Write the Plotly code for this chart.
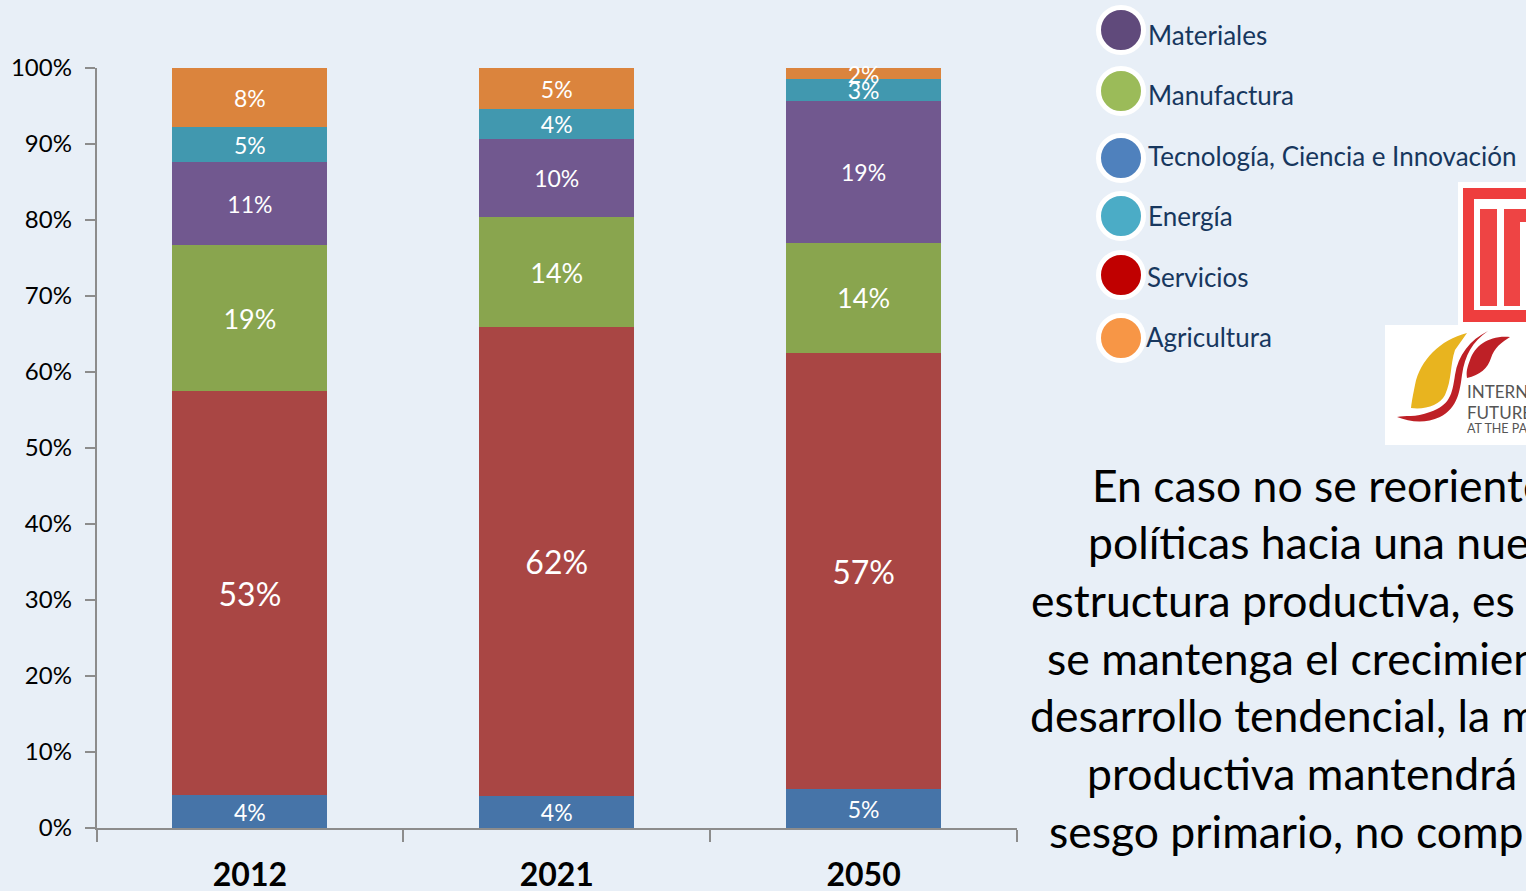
import plotly.graph_objects as go

W, H = 1526, 891
FONT = "Lato"
BG = "#E8EFF7"

# ---- data (share of each sector, %) ----
years = ["2012", "2021", "2050"]
tecnologia = [4.3, 4.2, 5.1]
servicios = [53.2, 61.7, 57.4]
manufactura = [19.2, 14.5, 14.5]
materiales = [10.9, 10.2, 18.6]
energia = [4.6, 4.0, 2.95]
agricultura = [7.79, 5.39, 1.44]

lab_tecnologia = ["4%", "4%", "5%"]
lab_servicios = ["53%", "62%", "57%"]
lab_manufactura = ["19%", "14%", "14%"]
lab_materiales = ["11%", "10%", "19%"]
lab_energia = ["5%", "4%", "3%"]
lab_agricultura = ["8%", "5%", "2%"]

legend_names = ["Materiales", "Manufactura", "Tecnología, Ciencia e Innovación",
                "Energía", "Servicios", "Agricultura"]
paragraph = ["En caso no se reoriente", "políticas hacia una nue",
             "estructura productiva, es", "se mantenga el crecimien",
             "desarrollo tendencial, la m", "productiva mantendrá",
             "sesgo primario, no comp"]

# ---- styles ----
series = [
    ("Tecnología, Ciencia e Innovación", tecnologia, lab_tecnologia, "#4674A8", [23, 23, 23]),
    ("Servicios", servicios, lab_servicios, "#A94644", [32, 32, 32]),
    ("Manufactura", manufactura, lab_manufactura, "#89A54E", [27, 27, 27]),
    ("Materiales", materiales, lab_materiales, "#71588F", [23, 23, 23]),
    ("Energía", energia, lab_energia, "#4198AF", [23, 23, 23]),
    ("Agricultura", agricultura, lab_agricultura, "#DB843D", [23, 23, 23]),
]
legend_colors = ["#604A7B", "#9BBB59", "#4F81BD", "#4BACC6", "#C00000", "#F79646"]
legend_cy = [30, 91, 158, 216, 275, 338]
legend_tx = [1147, 1147, 1147, 1147, 1146, 1145]
legend_ty = [35, 95, 156, 216, 277, 337]
para_x = [1090.5, 1086.5, 1029.5, 1045.5, 1028.5, 1085.5, 1047.5]
para_y = [484, 541, 599, 657, 714, 772, 830]


def px(x):
    return x / W


def py(y):
    return 1 - y / H


fig = go.Figure()
for name, vals, labs, color, sizes in series:
    fig.add_trace(go.Bar(
        name=name, x=years, y=vals, text=labs, marker=dict(color=color, line=dict(width=0)),
        textposition="inside", insidetextanchor="middle", textangle=0,
        constraintext="none", cliponaxis=False,
        textfont=dict(family=FONT, color="white", size=sizes),
        hoverinfo="name+y",
    ))

shapes = []
annotations = []


def rect(x0, y0, x1, y1, color):
    shapes.append(dict(type="rect", xref="paper", yref="paper", x0=px(x0), x1=px(x1),
                       y0=py(y0), y1=py(y1), fillcolor=color, line=dict(width=0), layer="above"))


def curve(segments, color):
    out = []
    for cmd, coords in segments:
        pairs = [f"{px(coords[i]):.5f},{py(coords[i + 1]):.5f}" for i in range(0, len(coords), 2)]
        out.append(cmd + " " + " ".join(pairs))
    shapes.append(dict(type="path", xref="paper", yref="paper", path=" ".join(out) + " Z",
                       fillcolor=color, line=dict(width=0), layer="above"))


def text(x, y, s, size, color, anchor="left", family=FONT):
    annotations.append(dict(xref="paper", yref="paper", x=px(x), y=py(y), text=s, showarrow=False,
                            xanchor=anchor, yanchor="middle", align="left", borderpad=0,
                            font=dict(family=family, size=size, color=color)))


# legend
for name, col, cy, tx, ty in zip(legend_names, legend_colors, legend_cy, legend_tx, legend_ty):
    shapes.append(dict(type="circle", xref="paper", yref="paper",
                       x0=px(1121 - 22.5), x1=px(1121 + 22.5), y0=py(cy + 22.5), y1=py(cy - 22.5),
                       fillcolor=col, line=dict(color="white", width=5), layer="above"))
    text(tx, ty, name, 26, "#17375E")

# IFP logo
rect(1458, 182, 1526, 325, "white")
rect(1463, 188, 1526, 322, "#EE3E3E")
rect(1474, 199, 1526, 310, "white")
rect(1480, 209, 1497, 306, "#EE4444")
rect(1504, 209, 1526, 306, "#EE4444")
rect(1520, 222, 1526, 306, "white")

# leaf logo
rect(1385, 325, 1526, 445, "white")
curve([("M", [1467, 333]), ("C", [1440, 340, 1420, 360, 1415, 385]),
       ("C", [1413, 395, 1412, 400, 1411, 408]), ("C", [1425, 410, 1440, 405, 1445, 395]),
       ("C", [1452, 380, 1450, 365, 1455, 350])], "#E8B41F")
curve([("M", [1488, 331]), ("C", [1470, 340, 1458, 355, 1455, 375]),
       ("C", [1452, 395, 1450, 405, 1430, 412]), ("C", [1415, 418, 1405, 415, 1397, 417]),
       ("C", [1410, 422, 1425, 424, 1440, 417]), ("C", [1458, 408, 1460, 390, 1462, 375]),
       ("C", [1465, 355, 1472, 342, 1488, 331])], "#BE2026")
curve([("M", [1510, 337]), ("C", [1490, 335, 1475, 345, 1470, 360]),
       ("C", [1467, 368, 1466, 372, 1467, 378]), ("C", [1480, 375, 1488, 368, 1491, 358]),
       ("C", [1494, 348, 1502, 342, 1510, 337])], "#BE2026")
text(1466, 391, "INTERN", 17, "#555555")
text(1466, 412, "FUTURE", 17, "#555555")
text(1466, 429, "AT THE PA", 12.5, "#555555")

# paragraph
for s, x, y in zip(paragraph, para_x, para_y):
    text(x, y, s, 44.5, "black")

axis_color = "#8C8C8C"
fig.update_layout(
    width=W, height=H, margin=dict(l=0, r=0, t=0, b=0),
    paper_bgcolor=BG, plot_bgcolor=BG, barmode="stack", bargap=0.495, showlegend=False,
    shapes=shapes, annotations=annotations, font=dict(family=FONT),
    xaxis=dict(domain=[px(96.5), px(1017)], type="category", tickson="boundaries", ticks="outside",
               ticklen=12, tickwidth=1.5, tickcolor=axis_color, showline=True, linecolor=axis_color,
               linewidth=1.5, showgrid=False, zeroline=False, ticklabelstandoff=18, automargin=False,
               tickfont=dict(family=FONT, size=32, color="black", weight=700)),
    yaxis=dict(domain=[py(828), py(68)], range=[0, 100], dtick=10, ticksuffix="%", ticks="outside",
               ticklen=10, tickwidth=1.5, tickcolor=axis_color, showline=True, linecolor=axis_color,
               linewidth=1.5, showgrid=False, zeroline=False, ticklabelstandoff=8, automargin=False,
               tickfont=dict(family=FONT, size=24, color="black")),
)

fig.write_html("out.html", config=dict(displayModeBar=False),
               post_script="document.body.style.margin='0';document.body.style.overflow='hidden';document.body.style.background='%s';" % BG)
